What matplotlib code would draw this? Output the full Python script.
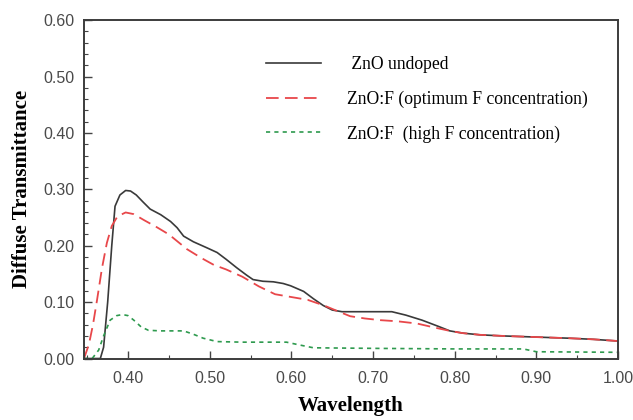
import matplotlib
matplotlib.use("Agg")
import matplotlib.pyplot as plt
from matplotlib.ticker import MultipleLocator, FormatStrFormatter

# Diffuse transmittance spectra (wavelength in micrometres)
wl_undoped = [0.346, 0.366, 0.370, 0.375, 0.380, 0.384, 0.390, 0.397, 0.403, 0.410,
              0.418, 0.427, 0.440, 0.452, 0.460, 0.468, 0.480, 0.497, 0.509, 0.520,
              0.533, 0.545, 0.553, 0.565, 0.578, 0.590, 0.599, 0.615, 0.627, 0.639,
              0.650, 0.662, 0.690, 0.723, 0.740, 0.760, 0.780, 0.794, 0.810, 0.831,
              0.860, 0.900, 0.940, 0.970, 1.000]
t_undoped = [0.000, 0.000, 0.020, 0.100, 0.200, 0.270, 0.290, 0.298, 0.297, 0.290,
             0.278, 0.265, 0.255, 0.243, 0.232, 0.217, 0.207, 0.196, 0.188, 0.176,
             0.161, 0.148, 0.140, 0.137, 0.136, 0.133, 0.129, 0.119, 0.106, 0.094,
             0.086, 0.083, 0.083, 0.083, 0.077, 0.068, 0.057, 0.049, 0.045, 0.042,
             0.040, 0.038, 0.036, 0.034, 0.031]

wl_optimum = [0.346, 0.352, 0.357, 0.362, 0.368, 0.374, 0.380, 0.387, 0.397, 0.407,
              0.420, 0.435, 0.450, 0.472, 0.490, 0.505, 0.520, 0.540, 0.560, 0.580,
              0.600, 0.620, 0.640, 0.660, 0.672, 0.690, 0.709, 0.730, 0.754, 0.775,
              0.794, 0.810, 0.831, 0.860, 0.900, 0.940, 0.970, 1.000]
t_optimum = [0.000, 0.025, 0.060, 0.104, 0.160, 0.205, 0.235, 0.252, 0.259, 0.256,
             0.245, 0.233, 0.220, 0.194, 0.178, 0.166, 0.158, 0.145, 0.128, 0.114,
             0.109, 0.104, 0.094, 0.082, 0.075, 0.071, 0.068, 0.066, 0.062, 0.055,
             0.049, 0.045, 0.042, 0.040, 0.038, 0.036, 0.034, 0.031]

wl_high = [0.346, 0.356, 0.364, 0.370, 0.378, 0.386, 0.393, 0.400, 0.407, 0.416,
           0.425, 0.440, 0.468, 0.480, 0.492, 0.509, 0.540, 0.594, 0.610, 0.627,
           0.700, 0.800, 0.884, 0.900, 1.000]
t_high = [0.000, 0.000, 0.015, 0.040, 0.068, 0.076, 0.078, 0.076, 0.068, 0.056,
          0.050, 0.049, 0.049, 0.043, 0.036, 0.030, 0.029, 0.029, 0.024, 0.019,
          0.018, 0.017, 0.017, 0.012, 0.011]

labels = [" ZnO undoped", "ZnO:F (optimum F concentration)", "ZnO:F  (high F concentration)"]

fig = plt.figure(figsize=(6.33, 4.2), dpi=100)
ax = fig.add_axes([0.1327, 0.1464, 0.8436, 0.8056])

ax.plot(wl_undoped, t_undoped, color="#3a3a3a", lw=1.2, label=labels[0])
ax.plot(wl_optimum, t_optimum, color="#e8474a", lw=1.3, dashes=(7, 3.5), label=labels[1])
ax.plot(wl_high, t_high, color="#2e9a4e", lw=1.2, dashes=(2.5, 2.5), label=labels[2])

ax.set_xlim(0.346, 1.0)
ax.set_ylim(0.0, 0.60)
ax.xaxis.set_major_locator(MultipleLocator(0.10))
ax.xaxis.set_minor_locator(MultipleLocator(0.05))
ax.yaxis.set_major_locator(MultipleLocator(0.10))
ax.yaxis.set_minor_locator(MultipleLocator(0.02))
ax.xaxis.set_major_formatter(FormatStrFormatter("%.2f"))
ax.yaxis.set_major_formatter(FormatStrFormatter("%.2f"))

ax.tick_params(which="both", direction="in", top=False, right=False,
               colors="#444444", labelcolor="#4a4a4a")
ax.tick_params(which="major", length=6, width=1.0, labelsize=11.5)
ax.tick_params(axis="x", which="major", pad=9)
ax.tick_params(axis="y", which="major", pad=7)
ax.tick_params(which="minor", length=3, width=0.8)
for lab in ax.get_xticklabels() + ax.get_yticklabels():
    lab.set_family("Liberation Sans")

for sp in ax.spines.values():
    sp.set_color("#3c3c3c")
    sp.set_linewidth(1.4)

ax.set_xlabel("Wavelength", family="Liberation Serif", fontweight="bold",
              fontsize=15, labelpad=7)
ax.set_ylabel("Diffuse Transmittance", family="Liberation Serif", fontweight="bold",
              fontsize=15, labelpad=8)

leg = ax.legend(loc="upper left", bbox_to_anchor=(0.312, 0.94), frameon=False,
                prop={"family": "Liberation Serif", "size": 12.7},
                handlelength=3.1, handletextpad=1.45, labelspacing=0.98)

fig.savefig("out.png", dpi=100)
